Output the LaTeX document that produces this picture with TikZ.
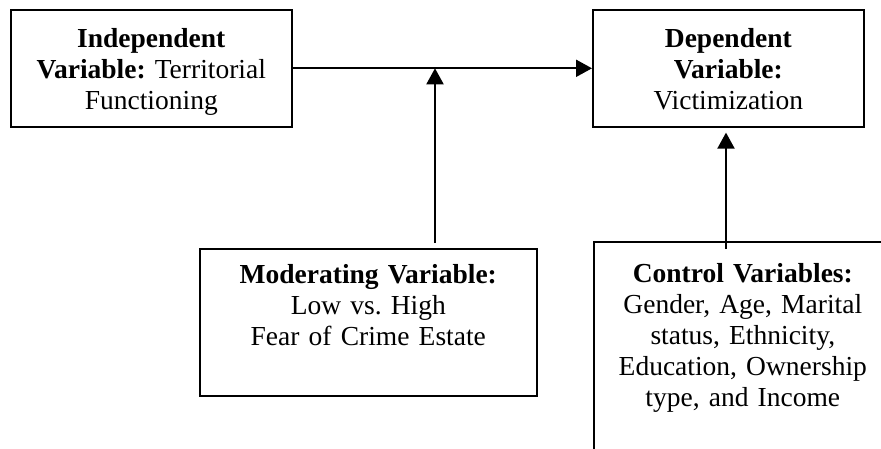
\documentclass[tikz,border=0pt]{standalone}
\usepackage{fontspec}
\setmainfont{Liberation Serif}
\usetikzlibrary{arrows.meta}
\frenchspacing

\tikzset{
  varbox/.style={draw, line width=1.6pt, inner sep=0pt, align=center, anchor=north west,
    font=\fontsize{27.5}{31}\selectfont},
  arr/.style={line width=2pt, -{Triangle[width=17pt,length=16pt]}}
}

\begin{document}
\begin{tikzpicture}[x=1pt,y=-1pt]
\clip (0,0) rectangle (881,448);
% top row
\node[varbox, text width=281pt, text height=38pt, text depth=79pt] (indep) at (10,9)
  {\textbf{Independent}\\\textbf{Variable:} Territorial\\Functioning};
\node[varbox, text width=271pt, text height=38pt, text depth=79pt] (dep) at (592,9)
  {\textbf{Dependent}\\\textbf{Variable:}\\Victimization};
% bottom row
\node[varbox, text width=337pt, text height=35pt, text depth=112pt] (moder) at (199,248)
  {\textbf{Moderating Variable:}\\Low vs. High\\Fear of Crime Estate};
\node[varbox, text width=298pt, text height=41pt, text depth=200pt] (ctrl) at (593,241)
  {\textbf{Control Variables:}\\Gender, Age, Marital\\status, Ethnicity,\\Education, Ownership\\type, and Income};
% arrows
\coordinate (modfoot) at (435,243);
\coordinate (ctrlfoot) at (726,249);
\draw[arr] (indep) -- (dep);
\draw[arr] (modfoot) -- (modfoot |- indep.east);
\draw[arr] (ctrlfoot) -- ([yshift=-5pt]ctrlfoot |- dep.south);
\end{tikzpicture}
\end{document}
